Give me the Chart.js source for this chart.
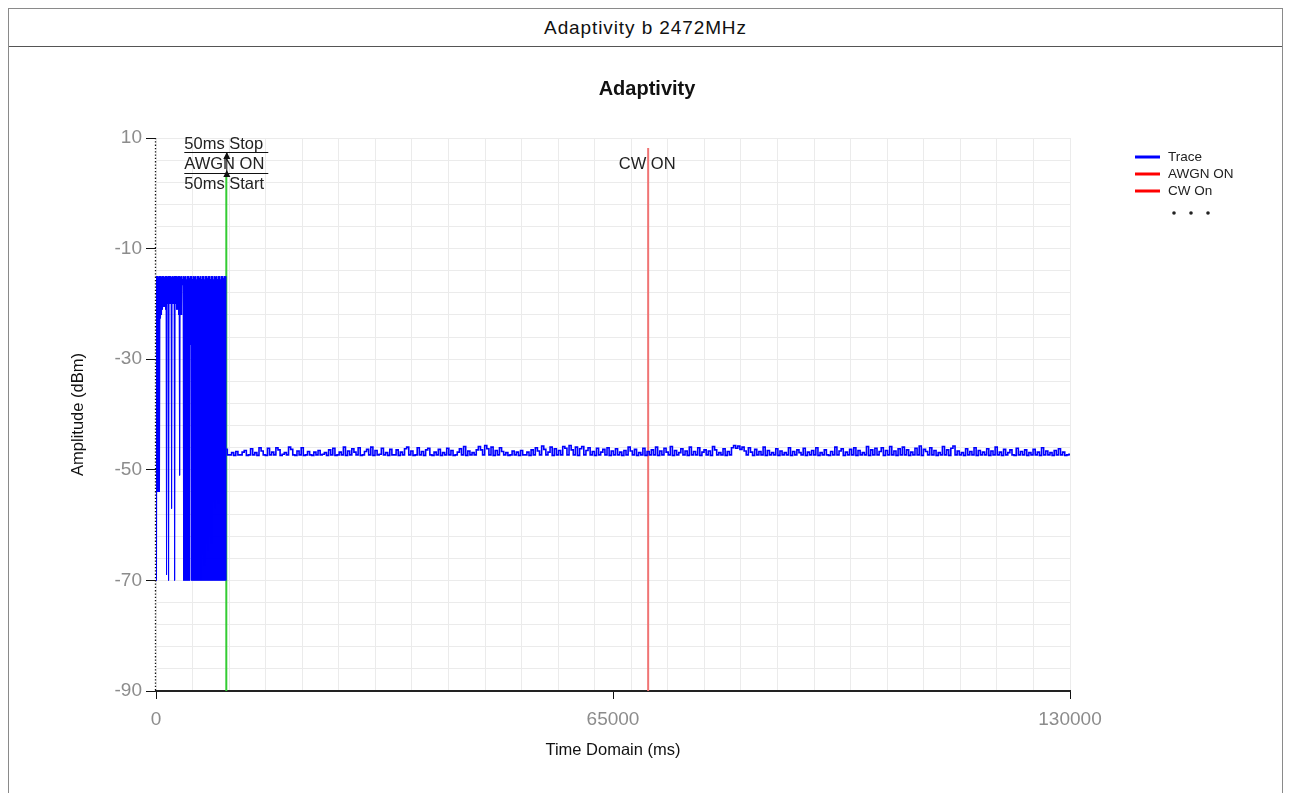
<!DOCTYPE html>
<html>
<head>
<meta charset="utf-8">
<title>Adaptivity b 2472MHz</title>
<script src="https://cdn.jsdelivr.net/npm/chart.js@4.4.0/dist/chart.umd.min.js"></script>
<style>
  html, body { margin:0; padding:0; background:#fff; }
  body { font-family:"Liberation Sans", Arial, sans-serif; }
  #frame { position:absolute; left:8px; top:8px; width:1273px; height:800px; border:1px solid #8a8a8a; border-bottom:none; }
  #head { height:37px; line-height:37px; text-align:center; font-size:19px; letter-spacing:0.9px; color:#111; border-bottom:1px solid #555; }
  #wrap { position:absolute; left:0; top:38px; }
</style>
</head>
<body>
<div id="frame">
  <div id="head">Adaptivity b 2472MHz</div>
  <div id="wrap"><canvas id="chart" width="1271" height="746"></canvas></div>
</div>
<script>
// axis ranges and tick labels
const X_MIN = 0, X_MAX = 130000, X_GRID_STEP = 5200;
const X_TICK_LABELS = [0, 65000, 130000];
const Y_MIN = -90, Y_MAX = 10, Y_GRID_STEP = 4;
const Y_TICK_LABELS = [10, -10, -30, -50, -70, -90];

// burst part of the trace (0 - 10000 ms), one column per pixel, top and bottom of each swing (dBm)
const BURST_END = 10000;
const BURST_HIGH = [
  -15.0,-15.0,-15.1,-15.0,-15.0,-15.1,-15.0,-15.0,-15.2,-15.0,
  -15.0,-15.1,-15.0,-15.0,-15.0,-15.2,-15.0,-15.1,-15.0,-15.0,
  -15.0,-15.1,-15.0,-15.0,-15.1,-15.0,-15.5,-15.0,-15.1,-15.0,
  -15.6,-15.0,-15.0,-15.4,-15.0,-15.0,-15.5,-15.0,-15.1,-15.0,
  -15.6,-15.0,-15.0,-15.3,-15.0,-15.5,-15.0,-15.0,-15.6,-15.0,
  -15.0,-15.4,-15.0,-15.0,-15.5,-15.0,-15.0,-15.6,-15.0,-15.1,
  -15.0,-15.5,-15.0,-15.0,-15.6,-15.0,-15.0,-15.4,-15.0,-15.0
];
const BURST_LOW = [
  -70.0,-54.0,-54.0,-54.0,-22.6,-22.0,-21.0,-20.5,-20.5,-21.0,
  -69.0,-20.0,-70.0,-20.0,-20.0,-57.0,-20.0,-20.0,-70.0,-20.0,
  -21.0,-21.0,-22.0,-51.0,-22.0,-22.0,-16.6,-70.0,-70.0,-70.0,
  -70.0,-70.0,-70.0,-70.0,-27.4,-70.0,-70.0,-70.0,-70.0,-70.0,
  -70.0,-70.0,-70.0,-70.0,-70.0,-70.0,-70.0,-70.0,-70.0,-70.0,
  -70.0,-70.0,-70.0,-70.0,-70.0,-70.0,-70.0,-70.0,-70.0,-70.0,
  -70.0,-70.0,-70.0,-70.0,-70.0,-70.0,-70.0,-70.0,-70.0,-70.0
];

// noise floor after AWGN switch-on, one sample every 300 ms from 10000 ms (dBm)
const NOISE_START = 10000, NOISE_STEP = 300;
const NOISE = [
  -46.3,-47.3,-47.3,-46.9,-47.4,-46.7,-47.3,-47.3,-46.8,-46.5,-47.4,-47.3,-46.2,-47.3,-46.9,-47.4,-46.0,-46.6,-47.3,-47.4,
  -46.1,-47.3,-46.8,-47.3,-46.0,-46.4,-47.4,-47.2,-46.9,-47.3,-45.9,-46.3,-47.3,-47.4,-46.6,-47.3,-46.0,-47.4,-47.3,-46.7,
  -47.3,-47.4,-46.8,-47.3,-46.5,-47.3,-47.2,-46.9,-47.4,-46.4,-47.3,-46.1,-47.4,-47.3,-46.8,-47.3,-45.9,-47.4,-46.6,-47.3,
  -46.2,-46.8,-47.3,-46.0,-47.4,-47.3,-46.7,-46.3,-47.3,-45.9,-47.4,-46.5,-47.3,-47.2,-46.1,-47.3,-46.9,-47.4,-46.3,-47.3,
  -47.3,-46.4,-47.4,-46.8,-47.3,-46.2,-45.9,-47.3,-46.6,-47.4,-47.3,-46.0,-47.3,-46.7,-47.4,-46.4,-46.1,-47.3,-47.4,-46.8,
  -47.3,-46.3,-47.4,-46.9,-47.3,-46.1,-47.3,-46.5,-47.4,-47.3,-46.8,-46.2,-47.3,-45.8,-47.4,-46.6,-47.3,-46.9,-47.3,-46.4,
  -45.8,-46.4,-47.3,-45.6,-46.2,-47.3,-45.9,-47.4,-46.5,-47.3,-46.0,-46.7,-47.3,-46.9,-47.4,-47.3,-46.6,-47.3,-46.8,-47.4,
  -46.5,-47.3,-47.3,-46.8,-47.4,-46.4,-47.3,-46.0,-46.6,-47.3,-45.7,-46.3,-47.3,-46.8,-45.9,-47.4,-46.2,-47.3,-46.5,-47.3,
  -45.8,-46.1,-47.3,-45.6,-46.4,-47.3,-45.9,-47.4,-46.2,-45.8,-47.3,-46.5,-46.0,-47.3,-46.7,-47.4,-46.1,-47.3,-46.8,-46.3,
  -47.3,-46.0,-47.4,-46.6,-47.3,-46.2,-47.3,-46.8,-47.4,-46.5,-47.3,-45.9,-46.6,-47.3,-46.3,-47.4,-46.9,-47.3,-46.1,-47.4,
  -46.7,-47.3,-46.4,-47.3,-45.9,-47.4,-46.6,-47.3,-46.1,-46.8,-47.3,-45.8,-47.4,-46.5,-47.3,-46.9,-46.2,-47.3,-46.6,-47.4,
  -45.9,-47.3,-46.7,-47.3,-46.0,-47.4,-46.8,-46.4,-47.3,-46.6,-47.4,-45.8,-46.4,-47.3,-46.9,-47.3,-46.2,-47.4,-46.7,-47.3,
  -46.0,-45.6,-46.1,-45.7,-46.3,-45.9,-46.6,-47.3,-46.0,-46.8,-47.4,-46.3,-47.3,-46.7,-47.3,-45.9,-47.4,-46.5,-47.3,-46.9,
  -47.3,-46.2,-47.4,-46.6,-47.3,-46.9,-47.3,-46.0,-47.4,-46.7,-47.3,-46.4,-46.9,-47.3,-46.1,-47.4,-46.8,-47.3,-46.5,-47.3,
  -46.0,-47.4,-46.9,-47.3,-46.4,-47.3,-47.4,-46.7,-47.3,-45.9,-47.3,-46.6,-46.2,-47.4,-46.8,-47.3,-46.3,-47.3,-46.0,-47.4,
  -46.5,-47.3,-46.9,-47.3,-45.8,-47.4,-46.4,-47.3,-46.1,-47.3,-46.7,-46.0,-47.4,-46.5,-47.3,-45.8,-47.3,-46.6,-47.4,-46.2,
  -47.3,-45.9,-47.3,-46.4,-47.4,-46.8,-47.3,-46.1,-47.3,-45.7,-47.4,-46.3,-46.7,-47.3,-46.0,-47.3,-46.5,-47.4,-46.9,-47.3,
  -45.8,-47.3,-46.4,-47.4,-46.1,-45.7,-47.3,-46.6,-47.3,-46.9,-47.4,-46.2,-47.3,-46.7,-47.3,-46.0,-47.4,-46.5,-47.3,-46.8,
  -47.3,-46.2,-47.4,-46.6,-47.3,-45.9,-47.3,-46.8,-47.4,-46.3,-47.3,-46.9,-46.4,-47.3,-47.4,-46.1,-47.3,-46.7,-47.3,-46.4,
  -47.4,-46.9,-47.3,-46.3,-47.3,-46.8,-47.4,-46.0,-47.3,-46.6,-47.3,-46.9,-47.4,-46.5,-47.3,-46.2,-47.3,-46.8,-47.4,-47.3,
  -47.2
];

// event markers
const AWGN_TIME = 10000, AWGN_TOP = 3.3;
const CW_TIME = 70000, CW_TOP = 8.2;
const AWGN_NOTES = ["50ms Stop", "AWGN ON", "50ms Start"];
const CW_NOTE = "CW ON";

const LEGEND_LABELS = ["Trace", "AWGN ON", "CW On"];
const LEGEND_COLORS = ["#0000ff", "#ff0000", "#ff0000"];

const FONT = '"Liberation Sans", Arial, sans-serif';

// build trace points
const burstStep = BURST_END / BURST_LOW.length;
const burst = [];
BURST_LOW.forEach((lo, i) => {
  burst.push({ x: i * burstStep, y: BURST_HIGH[i] });
  burst.push({ x: i * burstStep + burstStep / 2, y: lo });
});
const noise = NOISE.map((v, k) => ({ x: NOISE_START + k * NOISE_STEP, y: v }));

// dotted y axis line, text notes next to the marker lines
const notesPlugin = {
  id: 'notes',
  afterDatasetsDraw(chart) {
    const { ctx, chartArea, scales: { x, y } } = chart;
    ctx.save();
    ctx.strokeStyle = '#111';
    ctx.lineWidth = 1.3;
    ctx.setLineDash([1.3, 2]);
    ctx.beginPath(); ctx.moveTo(chartArea.left - 0.5, chartArea.top); ctx.lineTo(chartArea.left - 0.5, chartArea.bottom); ctx.stroke();
    ctx.setLineDash([]);
    ctx.lineWidth = 1;

    const gx = x.getPixelForValue(AWGN_TIME);
    const top = y.getPixelForValue(Y_MAX);
    ctx.font = '16.5px ' + FONT;
    ctx.fillStyle = '#222';
    ctx.textBaseline = 'middle';
    ctx.textAlign = 'left';
    AWGN_NOTES.forEach((t, i) => ctx.fillText(t, gx - 42, top + 6 + i * 20));
    [top + 14.5, top + 35.5].forEach(ly => {
      ctx.beginPath(); ctx.moveTo(gx - 42, ly); ctx.lineTo(gx + 42, ly); ctx.stroke();
    });
    // arrow
    ctx.beginPath(); ctx.moveTo(gx + 0.5, top + 14); ctx.lineTo(gx + 0.5, top + 38); ctx.stroke();
    ctx.fillStyle = '#111';
    [top + 14, top + 32].forEach(ay => {
      ctx.beginPath(); ctx.moveTo(gx + 0.5, ay); ctx.lineTo(gx - 3, ay + 7); ctx.lineTo(gx + 4, ay + 7); ctx.closePath(); ctx.fill();
    });
    const cx = x.getPixelForValue(CW_TIME);
    ctx.fillStyle = '#222';
    ctx.textAlign = 'center';
    ctx.fillText(CW_NOTE, cx - 1, top + 26);
    ctx.restore();
  }
};

// legend to the right of the plot
const sideLegend = {
  id: 'sideLegend',
  afterDraw(chart) {
    const { ctx, chartArea } = chart;
    const x0 = chartArea.right + 65, y0 = chartArea.top + 19;
    ctx.save();
    ctx.font = '13.5px ' + FONT;
    ctx.textBaseline = 'middle';
    ctx.textAlign = 'left';
    LEGEND_LABELS.forEach((lab, i) => {
      const ly = y0 + i * 17;
      ctx.strokeStyle = LEGEND_COLORS[i];
      ctx.lineWidth = 3;
      ctx.beginPath(); ctx.moveTo(x0, ly); ctx.lineTo(x0 + 25, ly); ctx.stroke();
      ctx.fillStyle = '#222';
      ctx.fillText(lab, x0 + 33, ly);
    });
    ctx.fillStyle = '#222';
    [0, 1, 2].forEach(i => {
      ctx.beginPath(); ctx.arc(x0 + 39 + i * 17, y0 + 56, 1.8, 0, Math.PI * 2); ctx.fill();
    });
    ctx.restore();
  }
};

new Chart(document.getElementById('chart'), {
  type: 'line',
  data: {
    datasets: [
      { label: 'Trace', data: burst, borderColor: '#0000ff', borderWidth: 1, pointRadius: 0, tension: 0 },
      { label: 'Trace', data: noise, borderColor: '#0000ff', borderWidth: 1.6, pointRadius: 0, stepped: 'middle' },
      { label: 'AWGN ON', data: [{ x: AWGN_TIME, y: Y_MIN }, { x: AWGN_TIME, y: AWGN_TOP }],
        borderColor: '#33cc33', borderWidth: 2, pointRadius: 0 },
      { label: 'CW On', data: [{ x: CW_TIME, y: Y_MIN }, { x: CW_TIME, y: CW_TOP }],
        borderColor: '#f07474', borderWidth: 2, pointRadius: 0 }
    ]
  },
  options: {
    responsive: false,
    animation: false,
    events: [],
    layout: { padding: { left: 5, right: 0, top: 30, bottom: 33.1 } },
    plugins: {
      legend: { display: false },
      tooltip: { enabled: false },
      title: {
        display: true, text: 'Adaptivity', color: '#111',
        font: { family: FONT, size: 20, weight: 'bold' },
        padding: { top: 0, bottom: 37 }
      }
    },
    scales: {
      x: {
        type: 'linear', min: X_MIN, max: X_MAX,
        afterBuildTicks(scale) {
          const vals = [];
          for (let v = X_MIN; v <= X_MAX; v += X_GRID_STEP) vals.push(v);
          X_TICK_LABELS.forEach(v => { if (!vals.includes(v)) vals.push(v); });
          vals.sort((a, b) => a - b);
          scale.ticks = vals.map(v => ({ value: v }));
        },
        afterFit(scale) { scale.height = 68.9; },
        ticks: {
          autoSkip: false, maxRotation: 0, padding: 9, color: '#8c8c8c',
          font: { family: FONT, size: 19 },
          callback: v => X_TICK_LABELS.includes(v) ? String(v) : ''
        },
        grid: {
          color: ctx => (ctx.tick && X_TICK_LABELS.includes(ctx.tick.value) && ctx.tick.value % X_GRID_STEP) ? 'rgba(0,0,0,0)' : '#ebebeb',
          tickColor: ctx => (ctx.tick && X_TICK_LABELS.includes(ctx.tick.value)) ? '#111' : 'rgba(0,0,0,0)',
          tickLength: 8, tickWidth: 1
        },
        border: { display: true, color: '#222', width: 2 },
        title: { display: true, text: 'Time Domain (ms)', color: '#111', font: { family: FONT, size: 16.5 }, padding: 0 }
      },
      y: {
        type: 'linear', min: Y_MIN, max: Y_MAX,
        afterBuildTicks(scale) {
          const vals = [];
          for (let v = Y_MIN; v <= Y_MAX; v += Y_GRID_STEP) vals.push(v);
          scale.ticks = vals.map(v => ({ value: v }));
        },
        afterFit(scale) { scale.width = 142; },
        ticks: {
          autoSkip: false, padding: 4, color: '#8c8c8c',
          font: { family: FONT, size: 19 },
          callback: v => Y_TICK_LABELS.includes(v) ? String(v) : ''
        },
        grid: {
          color: '#ebebeb',
          tickColor: ctx => (ctx.tick && Y_TICK_LABELS.includes(ctx.tick.value)) ? '#111' : 'rgba(0,0,0,0)',
          tickLength: 10, tickWidth: 1
        },
        border: { display: false },
        title: { display: true, text: 'Amplitude (dBm)', color: '#111', font: { family: FONT, size: 16.5 }, padding: { top: 54.1, bottom: 0 } }
      },
      // empty right-hand axis that keeps room for the legend
      yLegend: {
        type: 'linear', position: 'right', min: Y_MIN, max: Y_MAX,
        afterFit(scale) { scale.width = 210; },
        grid: { display: false, drawTicks: false },
        ticks: { display: false },
        border: { display: false }
      }
    }
  },
  plugins: [notesPlugin, sideLegend]
});
</script>
</body>
</html>
